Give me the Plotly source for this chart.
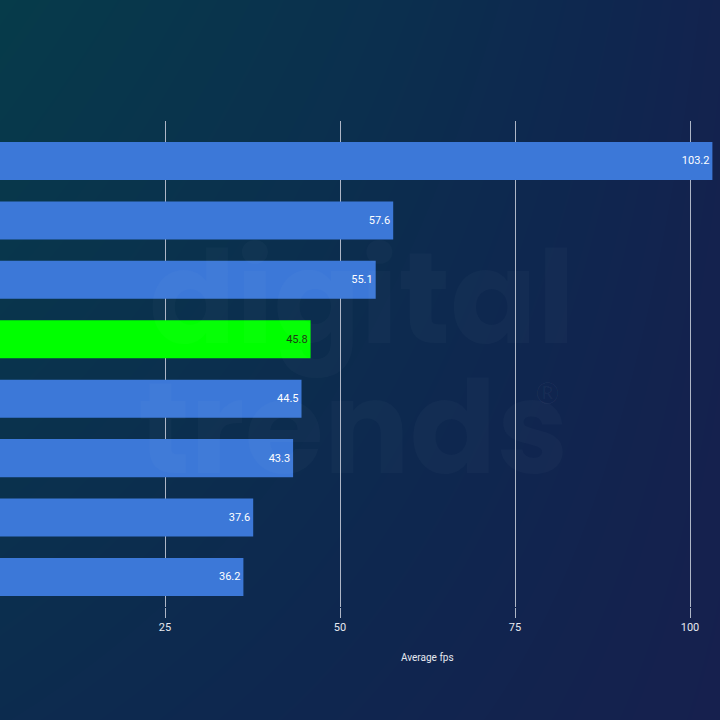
import plotly.graph_objects as go

categories = ["GPU A", "GPU B", "GPU C", "GPU D", "GPU E", "GPU F", "GPU G", "GPU H"]
values = [103.2, 57.6, 55.1, 45.8, 44.5, 43.3, 37.6, 36.2]
highlight = "GPU D"
tick_vals = [25, 50, 75, 100]
axis_title = "Average fps"

BLUE = "#3c78d8"
GREEN = "#00ff00"
colors = [GREEN if c == highlight else BLUE for c in categories]
text_colors = ["#1b3a10" if c == highlight else "#ffffff" for c in categories]

fig = go.Figure()

# background gradient (decoration) on its own full-page axes, drawn first
fig.add_trace(go.Heatmap(
    z=[[0.62, 1.0], [0.0, 0.9]],
    x=[0, 1], y=[0, 1],
    colorscale=[[0, "#063b4a"], [0.5, "#0b2f4e"], [0.75, "#0e274f"], [1, "#16204e"]],
    zsmooth="best", showscale=False, hoverinfo="skip",
    xaxis="x", yaxis="y",
))

fig.add_trace(go.Bar(
    y=categories, x=values, orientation="h",
    marker=dict(color=colors, line=dict(width=0)),
    text=[f"{v:.1f}" for v in values],
    textposition="inside", insidetextanchor="end",
    textangle=0, constraintext="none",
    textfont=dict(color=text_colors, size=11, family="Roboto"),
    width=0.64,
    xaxis="x2", yaxis="y2",
    hoverinfo="skip",
))

wm_font = dict(size=128, family="Poppins, Lato, Inter", color="rgba(255,255,255,0.022)")

fig.update_layout(
    width=720, height=720,
    margin=dict(l=0, r=0, t=0, b=0),
    paper_bgcolor="#0c2b4d",
    plot_bgcolor="rgba(0,0,0,0)",
    showlegend=False,
    font=dict(family="Roboto", color="#e6e9f0"),
    xaxis=dict(domain=[0, 1], range=[0, 1], visible=False, fixedrange=True),
    yaxis=dict(domain=[0, 1], range=[0, 1], visible=False, fixedrange=True),
    xaxis2=dict(
        domain=[0, 1], anchor="y2",
        range=[10 / 7, 730 / 7],
        tickvals=tick_vals, ticktext=[str(t) for t in tick_vals],
        showgrid=True, gridcolor="#aeb6c6", gridwidth=1,
        ticks="outside", ticklen=10, tickcolor="#aeb6c6", tickwidth=1,
        tickfont=dict(size=11, color="#e6e9f0"),
        zeroline=False, showline=False,
    ),
    yaxis2=dict(
        domain=[113 / 720, 599 / 720], anchor="x2",
        type="category", categoryorder="array", categoryarray=categories,
        range=[7.505, -0.673],
        showticklabels=False, showgrid=False, zeroline=False, ticks="",
    ),
    annotations=[
        dict(text="<b>digital</b>", xref="paper", yref="paper", x=0.503, y=0.585,
             showarrow=False, font=wm_font),
        dict(text="<b>trends</b>", xref="paper", yref="paper", x=0.49, y=0.405,
             showarrow=False, font=wm_font),
        dict(text="®", xref="paper", yref="paper", x=0.78, y=0.455,
             showarrow=False, font=dict(size=30, family="Lato", color="rgba(255,255,255,0.03)")),
        dict(text=axis_title, xref="paper", yref="paper", x=427 / 720, y=1 - 657 / 720,
             xanchor="center", yanchor="middle", showarrow=False,
             font=dict(size=10, color="#e6e9f0", family="Roboto")),
    ],
)

fig.write_html("out.html")
